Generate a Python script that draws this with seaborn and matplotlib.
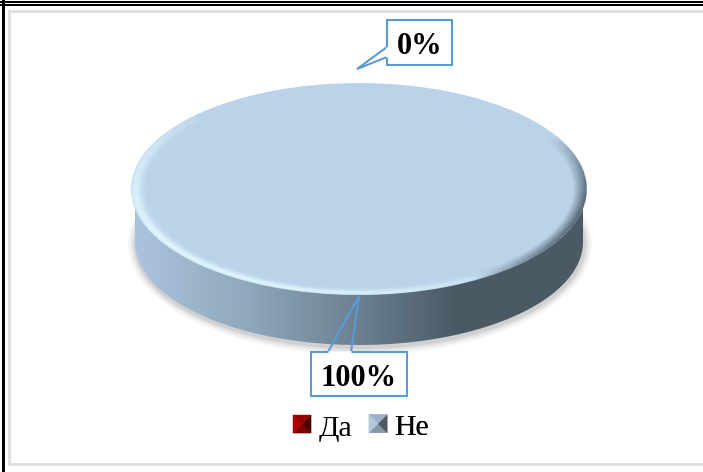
import numpy as np
import matplotlib
matplotlib.use('Agg')
import matplotlib.pyplot as plt
import seaborn as sns
from matplotlib.colors import LinearSegmentedColormap
from matplotlib.legend_handler import HandlerBase
from matplotlib.patches import Ellipse, Patch, PathPatch, Polygon, Rectangle
from matplotlib.path import Path

# Data
answers = ['Да', 'Не']
shares = [0, 100]
share_labels = ['0%', '100%']

sns.set_theme(style='white')
plt.rcParams['font.family'] = ['Liberation Serif', 'DejaVu Serif']
colors = sns.color_palette(['#b00000', '#bad3e9'])

W, H = 703, 472
fig = plt.figure(figsize=(W / 100, H / 100), dpi=100, facecolor='white')

# page layer in pixel coords
bg = fig.add_axes([0, 0, 1, 1])
bg.set_xlim(0, W)
bg.set_ylim(H, 0)
bg.axis('off')

# outer table lines and chart frame
bg.add_patch(Rectangle((8.5, 10.5), W + 10, 453, fc='white', ec='#dedede', lw=2))
for y0, y1 in [(1, 2.5), (4, 6)]:
    bg.add_patch(Rectangle((0, y0), W, y1 - y0, fc='black', ec='none'))
bg.add_patch(Rectangle((2, 0), 3, H, fc='black', ec='none'))

cx, cy, rx, ry = 359, 189, 228, 106
wall_rx, wall_ry, depth = 224, 103, 53

# soft shadow under the disc
for grow, alpha in zip([8, 6, 4, 2], [0.03, 0.04, 0.05, 0.07]):
    bg.add_patch(Ellipse((cx + 1, cy + depth + 2), 2 * (wall_rx + grow), 2 * (wall_ry + grow),
                         fc='black', ec='none', alpha=alpha))

# side wall with left to right gradient
wall_cmap = LinearSegmentedColormap.from_list(
    'wall', [(0, '#a9c4dc'), (0.25, '#8fa8bc'), (0.5, '#6b8092'), (0.72, '#4a5a65'), (1, '#4a5a65')])
t = np.linspace(0, np.pi, 200)
px = np.r_[cx + wall_rx * np.cos(t), cx - wall_rx, cx + wall_rx]
py = np.r_[cy + depth + wall_ry * np.sin(t), cy, cy]
wall_path = Path(np.c_[px, py])
wall_img = bg.imshow(np.linspace(0, 1, 256)[None, :], cmap=wall_cmap, aspect='auto',
                     extent=[cx - wall_rx, cx + wall_rx, cy + depth + wall_ry, cy], zorder=2)
wall_img.set_clip_path(PathPatch(wall_path, transform=bg.transData))
bg.set_xlim(0, W)
bg.set_ylim(H, 0)

# pie on its own axes, squashed to the tilted ellipse
pie_ax = fig.add_axes([(cx - rx) / W, 1 - (cy + ry) / H, 2 * rx / W, 2 * ry / H], zorder=3)
pie_ax.patch.set_alpha(0)
wedges, _ = pie_ax.pie(shares, colors=colors, radius=1, startangle=90, wedgeprops={'linewidth': 0})
pie_ax.set_aspect('auto')
pie_ax.axis('off')

# bevel on the rim: light on the lower left, dark on the lower right
gx, gy = np.meshgrid(np.linspace(-1, 1, 900), np.linspace(-1, 1, 500))
rad = np.hypot(gx, gy)
ang = np.degrees(np.arctan2(gy, gx))
ang_light = (ang + 135 + 180) % 360 - 180
ang_dark = (ang + 15 + 180) % 360 - 180
light = np.cos(np.radians(np.clip(ang_light, -90, 90))) ** 0.6
dark = np.cos(np.radians(np.clip(ang_dark * 2, -90, 90))) ** 0.8
light_a = np.exp(-((rad - 0.982) / 0.028) ** 2) * light * 0.95
dark_a = np.clip((rad - 0.94) / 0.06, 0, 1) * dark * 0.95
for rgb, alpha in [((0.88, 0.97, 1.0), light_a), ((0.29, 0.35, 0.40), dark_a)]:
    layer = np.zeros(gx.shape + (4,))
    layer[..., :3] = rgb
    layer[..., 3] = np.where(rad <= 1, alpha, 0)
    pie_ax.imshow(layer, extent=[-1, 1, -1, 1], origin='lower', aspect='auto', zorder=5)
pie_ax.set_xlim(-1, 1)
pie_ax.set_ylim(-1, 1)

# callout labels, on a layer above the pie
top = fig.add_axes([0, 0, 1, 1], zorder=6)
top.set_xlim(0, W)
top.set_ylim(H, 0)
top.axis('off')
edge = '#5b9bd5'
boxes = [(387, 20, 65, 45), (311, 352, 96, 44)]
tails = [
    [(387, 47), (357, 69), (387, 57)],
    [(328, 352), (359, 296), (351, 352)],
]
label_pos = [(419.5, 47), (359, 378)]
for box, tail, txt, pos in zip(boxes, tails, share_labels, label_pos):
    top.add_patch(Rectangle(box[:2], box[2], box[3], fc='white', ec=edge, lw=1.5))
    # tail is open, the wall shows through it
    top.add_patch(Polygon(tail, closed=False, fc='none', ec=edge, lw=1.5, joinstyle='miter'))
    top.plot([tail[0][0], tail[2][0]], [tail[0][1], tail[2][1]], color='white', lw=2,
             solid_capstyle='butt')
    top.text(pos[0], pos[1], txt, ha='center', va='center', fontsize=22, fontweight='bold', color='black')


class PyramidHandler(HandlerBase):
    # small bevelled square like the office legend key
    def __init__(self, lift=0):
        super().__init__()
        self.lift = lift

    def create_artists(self, legend, orig, xd, yd, w, h, fontsize, trans):
        base = np.array(orig.get_facecolor()[:3])
        x0, y0 = -xd, -yd + self.lift
        s = 13
        c = (x0 + s / 2, y0 + s / 2)
        corners = [(x0, y0), (x0 + s, y0), (x0 + s, y0 + s), (x0, y0 + s)]
        # bottom, right, top, left
        shades = [0.72, 0.42, 0.85, 0.95]
        out = []
        for i, shade in enumerate(shades):
            col = tuple(base * shade)
            out.append(Polygon([corners[i], corners[(i + 1) % 4], c], closed=True,
                               fc=col, ec=col, lw=0.3, transform=trans))
        return out


# one legend per entry so the two labels keep the same baseline
legend_x = [293, 369]
legend_y = [428.5, 428]
lifts = [1, 1]
for a, c, lx, ly, lift in zip(answers, colors, legend_x, legend_y, lifts):
    leg = top.legend(handles=[Patch(fc=c, label=a)], loc='center left',
                     bbox_to_anchor=(lx / W, 1 - ly / H), bbox_transform=fig.transFigure,
                     frameon=False, fontsize=21.5, handler_map={Patch: PyramidHandler(lift)},
                     handlelength=0.6, handleheight=0.6, handletextpad=0.25,
                     labelcolor='black', borderpad=0, borderaxespad=0)
    top.add_artist(leg)

fig.savefig('out.png', dpi=100, facecolor='white')
